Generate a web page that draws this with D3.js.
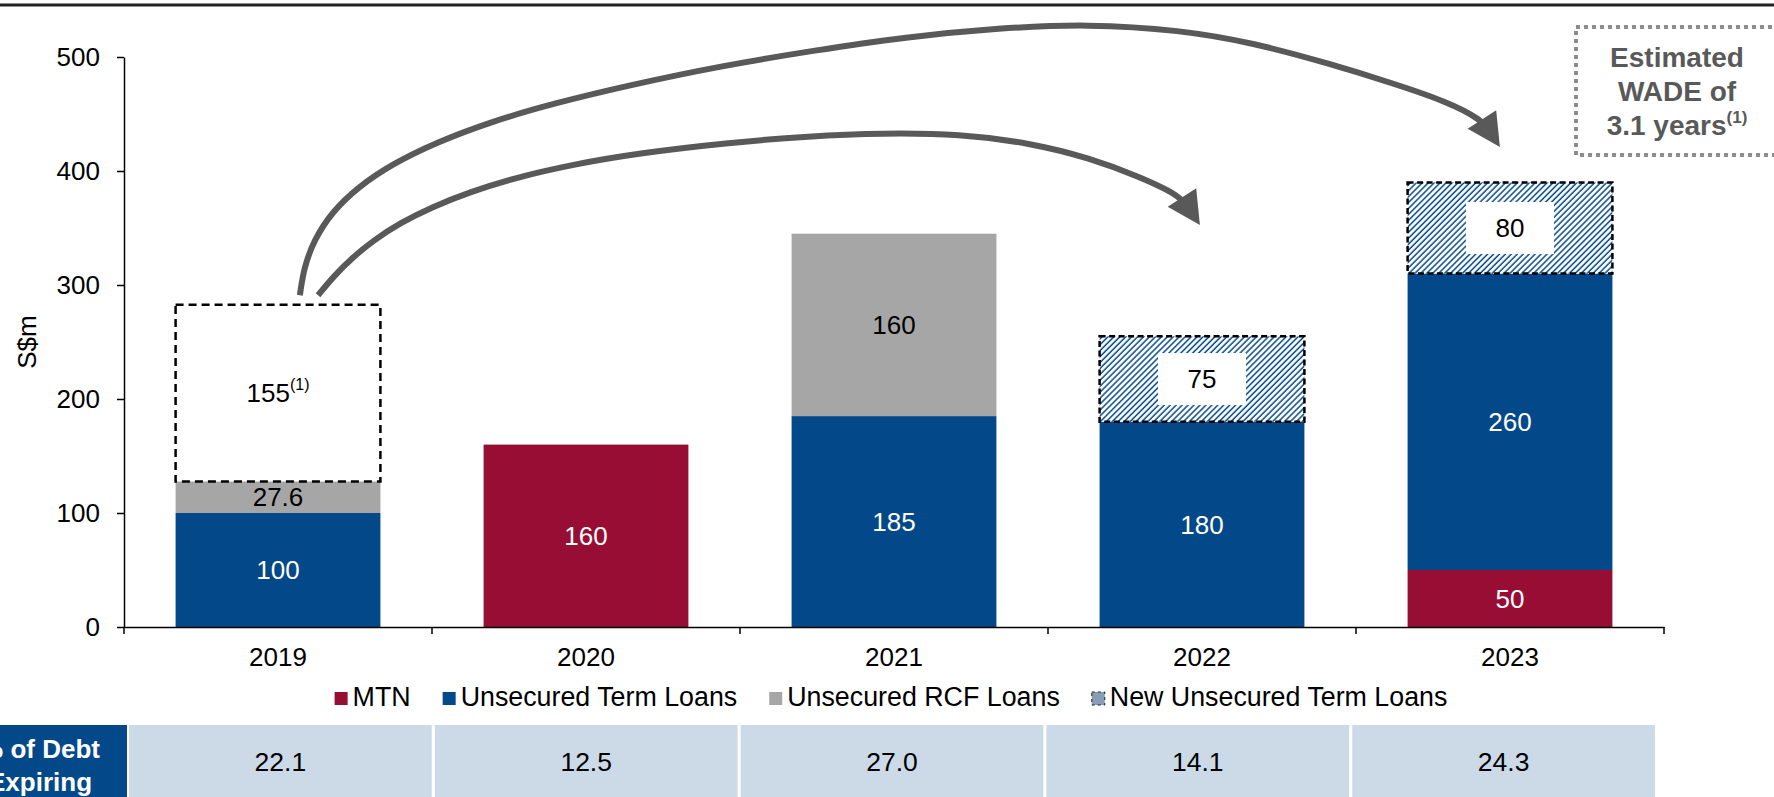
<!DOCTYPE html>
<html lang="en">
<head>
<meta charset="UTF-8">
<title>Debt maturity profile</title>
<script src="https://d3js.org/d3.v7.min.js"></script>
<style>
  body { margin: 0; background: #fff; font-family: "Liberation Sans", Arial, sans-serif; }
  svg { display: block; }
  text { font-family: "Liberation Sans", Arial, sans-serif; }
  .axis path, .axis line { stroke: #000; stroke-width: 1.5; }
  .axis text { font-size: 26px; fill: #000; }
</style>
</head>
<body>
<svg width="1774" height="797"></svg>
<script>
  // data, S$m
  const years = ["2019", "2020", "2021", "2022", "2023"];
  const mtn = [0, 160, 0, 0, 50];
  const termLoans = [100, 0, 185, 180, 260];
  const rcfLoans = [27.6, 0, 160, 0, 0];
  const newTermLoans = [0, 0, 0, 75, 80];
  const refinanced = [155, 0, 0, 0, 0];
  const debtExpiringPct = [22.1, 12.5, 27.0, 14.1, 24.3];
  const yTicks = [0, 100, 200, 300, 400, 500];
  const legendNames = ["MTN", "Unsecured Term Loans", "Unsecured RCF Loans", "New Unsecured Term Loans"];

  // arrow paths from 2019, in [category offset, S$m]
  const arrowTo2023 = [[0.071, 291], [0.084, 315], [0.117, 339.5], [0.175, 364], [0.26, 386], [0.37, 406],
                       [0.51, 424.6], [0.688, 443], [0.899, 459.6], [1.143, 475.4], [1.435, 492], [1.747, 506],
                       [2.036, 517.5], [2.344, 525.4], [2.627, 529], [2.929, 523.7], [3.169, 512.3],
                       [3.416, 494], [3.627, 476.3], [3.789, 461.4], [3.909, 445.6], [3.946, 429.8]];
  const arrowTo2022 = [[0.13, 291], [0.182, 308], [0.24, 323.7], [0.312, 339.5], [0.396, 354.4], [0.5, 368.4],
                       [0.623, 381.6], [0.769, 394], [0.948, 405.3], [1.175, 415.8], [1.455, 424.6],
                       [1.727, 430.7], [1.964, 433.3], [2.214, 432.5], [2.442, 424.6], [2.636, 411.4],
                       [2.799, 394.7], [2.896, 382.5], [2.938, 374.6], [2.972, 361.4]];

  const blue = "#03498A", red = "#970D33", grey = "#A6A6A6", arrowGrey = "#595959";

  const svg = d3.select("svg"),
        width = +svg.attr("width"),
        height = +svg.attr("height");

  const x = d3.scaleBand().domain(years).range([124, 1664]).paddingInner(0.335).paddingOuter(0.1675);
  const y = d3.scaleLinear().domain([0, 500]).range([627, 57]);

  const defs = svg.append("defs");
  const pat = defs.append("pattern")
    .attr("id", "hatch")
    .attr("patternUnits", "userSpaceOnUse")
    .attr("width", 4.2).attr("height", 4.2)
    .attr("patternTransform", "rotate(45)");
  pat.append("rect").attr("width", 4.2).attr("height", 4.2).attr("fill", "#fff");
  pat.append("line")
    .attr("x1", 1).attr("y1", 0).attr("x2", 1).attr("y2", 4.2)
    .attr("stroke", blue).attr("stroke-width", 1.5);

  // arrow head, fixed steep angle as in the original call-out
  defs.append("marker")
    .attr("id", "head")
    .attr("markerUnits", "userSpaceOnUse")
    .attr("viewBox", "-24 -19 40 38")
    .attr("markerWidth", 40).attr("markerHeight", 38)
    .attr("refX", 0).attr("refY", 0)
    .attr("orient", 57)
    .append("path")
    .attr("d", "M12,0L-21,-17L-21,17Z")
    .attr("fill", arrowGrey);

  // top rule
  svg.append("line")
    .attr("x1", 0).attr("x2", width).attr("y1", 5).attr("y2", 5)
    .attr("stroke", "#222").attr("stroke-width", 3);

  // y axis
  svg.append("g")
    .attr("class", "axis")
    .attr("transform", `translate(${x.range()[0]},0)`)
    .call(d3.axisLeft(y).tickValues(yTicks).tickSize(7).tickSizeOuter(0).tickPadding(17));

  svg.append("text")
    .attr("transform", `translate(36,${(y(200) + y(300)) / 2}) rotate(-90)`)
    .attr("text-anchor", "middle")
    .attr("font-size", 26)
    .text("S$m");

  // stacked bars
  const rows = years.map((yr, i) => ({
    year: yr, mtn: mtn[i], term: termLoans[i], rcf: rcfLoans[i],
    newTerm: newTermLoans[i], refi: refinanced[i]
  }));
  const keys = ["mtn", "term", "rcf", "newTerm", "refi"];
  const style = {
    mtn: { fill: red, text: "#fff" },
    term: { fill: blue, text: "#fff" },
    rcf: { fill: grey, text: "#000" },
    newTerm: { fill: "url(#hatch)", text: "#000", stroke: "#000", dash: "6 3.5", box: true },
    refi: { fill: "none", text: "#000", stroke: "#000", dash: "8 5", note: true }
  };
  const stacked = d3.stack().keys(keys)(rows);

  const seg = svg.append("g").selectAll("g")
    .data(stacked)
    .join("g")
    .selectAll("g")
    .data(s => s.map(d => ({ key: s.key, y0: d[0], y1: d[1], year: d.data.year, v: d.data[s.key] }))
                .filter(d => d.v > 0))
    .join("g");

  seg.append("rect")
    .attr("x", d => x(d.year))
    .attr("width", x.bandwidth())
    .attr("y", d => y(d.y1))
    .attr("height", d => y(d.y0) - y(d.y1))
    .attr("fill", d => style[d.key].fill)
    .attr("stroke", d => style[d.key].stroke || "none")
    .attr("stroke-width", 2.5)
    .attr("stroke-dasharray", d => style[d.key].dash || null);

  seg.filter(d => style[d.key].box)
    .append("rect")
    .attr("x", d => x(d.year) + x.bandwidth() / 2 - 44)
    .attr("y", d => (y(d.y0) + y(d.y1)) / 2 - 26)
    .attr("width", 88).attr("height", 52)
    .attr("fill", "#fff");

  const lbl = seg.append("text")
    .attr("x", d => x(d.year) + x.bandwidth() / 2)
    .attr("y", d => (y(d.y0) + y(d.y1)) / 2)
    .attr("dy", "0.35em")
    .attr("text-anchor", "middle")
    .attr("font-size", 26)
    .attr("fill", d => style[d.key].text);
  lbl.append("tspan").text(d => String(d.v));
  lbl.filter(d => style[d.key].note)
    .append("tspan")
    .attr("font-size", 16)
    .attr("dy", "-0.75em")
    .text("(1)");

  // x axis: labels at band centres, ticks at band edges
  const xAxis = svg.append("g")
    .attr("class", "axis")
    .attr("transform", `translate(0,${y(0)})`)
    .call(d3.axisBottom(x).tickSize(0).tickPadding(21));
  xAxis.selectAll(".tick")
    .append("line")
    .attr("x1", -x.step() / 2).attr("x2", -x.step() / 2)
    .attr("y2", 7);
  xAxis.append("line")
    .attr("x1", x.range()[1]).attr("x2", x.range()[1])
    .attr("y2", 7);

  // arrows
  const ax = c => x(years[0]) + x.bandwidth() / 2 + c * x.step();
  const arrowLine = d3.line().x(d => ax(d[0])).y(d => y(d[1])).curve(d3.curveBasis);
  svg.append("g").selectAll("path")
    .data([arrowTo2023, arrowTo2022])
    .join("path")
    .attr("d", arrowLine)
    .attr("fill", "none")
    .attr("stroke", arrowGrey)
    .attr("stroke-width", 6)
    .attr("marker-end", "url(#head)");

  // WADE call-out
  const wade = svg.append("g");
  wade.append("rect")
    .attr("x", 1576).attr("y", 27).attr("width", 260).attr("height", 128)
    .attr("fill", "none")
    .attr("stroke", "#8C8C8C").attr("stroke-width", 4)
    .attr("stroke-dasharray", "4 4");
  const wt = wade.append("text")
    .attr("text-anchor", "middle")
    .attr("font-size", 28).attr("font-weight", "bold")
    .attr("fill", arrowGrey);
  wt.append("tspan").attr("x", 1677).attr("y", 67).text("Estimated");
  wt.append("tspan").attr("x", 1677).attr("y", 101).text("WADE of");
  const l3 = wt.append("tspan").attr("x", 1677).attr("y", 135);
  l3.append("tspan").text("3.1 years");
  l3.append("tspan").attr("font-size", 17).attr("dy", "-0.7em").text("(1)");

  // legend
  const legendFill = [red, blue, grey, "#8A9DB6"];
  const legend = svg.append("g");
  let lx = 0;
  legendNames.forEach((name, i) => {
    const g = legend.append("g").attr("transform", `translate(${lx},0)`);
    g.append("rect")
      .attr("x", 0).attr("y", -14).attr("width", 13).attr("height", 13)
      .attr("fill", legendFill[i])
      .attr("stroke", i === 3 ? "#222" : "none")
      .attr("stroke-width", 1)
      .attr("stroke-dasharray", i === 3 ? "3 3" : null);
    const t = g.append("text").attr("x", 18).attr("font-size", 26.8).text(name);
    lx += 18 + t.node().getComputedTextLength() + 32;
  });
  lx -= 32;
  legend.attr("transform", `translate(${(x.range()[0] + x.range()[1]) / 2 - lx / 2 - 3},706)`);

  // % of debt expiring table
  const tx = d3.scaleBand().domain(years).range([129, 1655]).paddingInner(0.01);
  const tableTop = 725;
  svg.append("rect")
    .attr("x", 0).attr("y", tableTop)
    .attr("width", tx.range()[0] - 2).attr("height", height - tableTop)
    .attr("fill", blue);
  const head = svg.append("text")
    .attr("text-anchor", "middle")
    .attr("font-size", 26).attr("font-weight", "bold")
    .attr("fill", "#fff");
  head.append("tspan").attr("x", 40).attr("y", 758).text("% of Debt");
  head.append("tspan").attr("x", 40).attr("y", 791).text("Expiring");

  const cells = svg.append("g").selectAll("g")
    .data(years.map((yr, i) => ({ year: yr, v: debtExpiringPct[i] })))
    .join("g");
  cells.append("rect")
    .attr("x", d => tx(d.year))
    .attr("y", tableTop)
    .attr("width", tx.bandwidth())
    .attr("height", height - tableTop)
    .attr("fill", "#CCDAE7");
  cells.append("text")
    .attr("x", d => tx(d.year) + tx.bandwidth() / 2)
    .attr("y", (tableTop + height) / 2)
    .attr("dy", "0.38em")
    .attr("text-anchor", "middle")
    .attr("font-size", 26.5)
    .text(d => d3.format(".1f")(d.v));
</script>
</body>
</html>
